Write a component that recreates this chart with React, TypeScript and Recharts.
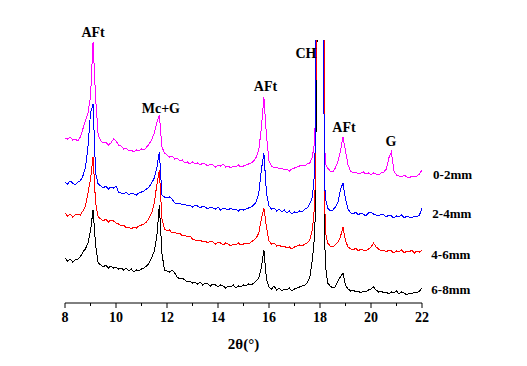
import React from 'react';
import { LineChart, Line, XAxis, YAxis, ReferenceDot } from 'recharts';

// 2θ scan positions (degrees)
const twoTheta = [
  8.0, 8.1, 8.2, 8.3, 8.4, 8.5, 8.6, 8.7, 8.8, 8.9,
  9.0, 9.1, 9.2, 9.3, 9.4, 9.5, 9.6, 9.7, 9.8, 9.9,
  10.0, 10.1, 10.2, 10.3, 10.4, 10.5, 10.6, 10.7, 10.8, 10.9,
  11.0, 11.1, 11.2, 11.3, 11.4, 11.5, 11.6, 11.7, 11.8, 11.9,
  12.0, 12.1, 12.2, 12.3, 12.4, 12.5, 12.6, 12.7, 12.8, 12.9,
  13.0, 13.1, 13.2, 13.3, 13.4, 13.5, 13.6, 13.7, 13.8, 13.9,
  14.0, 14.1, 14.2, 14.3, 14.4, 14.5, 14.6, 14.7, 14.8, 14.9,
  15.0, 15.1, 15.2, 15.3, 15.4, 15.5, 15.6, 15.7, 15.8, 15.9,
  16.0, 16.1, 16.2, 16.3, 16.4, 16.5, 16.6, 16.7, 16.8, 16.9,
  17.0, 17.1, 17.2, 17.3, 17.4, 17.5, 17.6, 17.7, 17.8, 17.9,
  18.0, 18.1, 18.2, 18.3, 18.4, 18.5, 18.6, 18.7, 18.8, 18.9,
  19.0, 19.1, 19.2, 19.3, 19.4, 19.5, 19.6, 19.7, 19.8, 19.9,
  20.0, 20.1, 20.2, 20.3, 20.4, 20.5, 20.6, 20.7, 20.8, 20.9,
  21.0, 21.1, 21.2, 21.3, 21.4, 21.5, 21.6, 21.7, 21.8, 21.9,
  22.0,
];

// intensities as plotted (stacked offsets included), 0-2mm
const depth0to2 = [
  165, 164, 166, 163, 164, 162, 166, 174, 182, 190,
  206, 261, 205, 168, 162, 160, 161, 158, 160, 164,
  162, 158, 157, 154, 155, 152, 153, 151, 153, 152,
  154, 153, 156, 159, 163, 170, 180, 188, 156, 150,
  148, 146, 147, 144, 145, 142, 143, 140, 141, 139,
  141, 139, 140, 138, 140, 139, 137, 139, 138, 136,
  138, 137, 139, 136, 137, 135, 137, 136, 138, 136,
  137, 138, 139, 140, 142, 146, 153, 175, 206, 168,
  142, 137, 135, 136, 134, 135, 133, 134, 132, 134,
  135, 136, 137, 138, 137, 139, 140, 146, 163, 420,
  600, 420, 140, 135, 132, 131, 135, 141, 152, 166,
  152, 138, 132, 130, 131, 129, 130, 131, 129, 130,
  128, 130, 129, 128, 130, 131, 134, 145, 151, 132,
  128, 127, 126, 128, 126, 125, 127, 126, 127, 129,
  133,
];

// 2-4mm
const depth2to4 = [
  121, 119, 122, 120, 118, 121, 122, 127, 135, 156,
  190, 199, 130, 119, 117, 115, 117, 114, 116, 115,
  117, 111, 110, 109, 111, 108, 110, 109, 108, 110,
  111, 112, 114, 116, 120, 125, 135, 151, 108, 106,
  105, 106, 104, 100, 99, 100, 98, 99, 97, 98,
  96, 98, 97, 95, 97, 96, 94, 96, 95, 94,
  96, 93, 95, 94, 93, 95, 93, 94, 92, 94,
  93, 94, 95, 96, 98, 101, 110, 133, 150, 110,
  97, 94, 95, 92, 94, 91, 93, 90, 92, 89,
  91, 90, 92, 91, 94, 95, 99, 106, 133, 500,
  650, 300, 106, 95, 92, 93, 96, 100, 113, 120,
  104, 94, 90, 89, 91, 88, 90, 89, 87, 90,
  91, 89, 88, 87, 89, 88, 86, 88, 87, 85,
  87, 86, 88, 85, 87, 86, 85, 87, 86, 88,
  95,
];

// 4-6mm
const depth4to6 = [
  90, 87, 89, 86, 88, 89, 88, 92, 97, 110,
  124, 146, 100, 86, 84, 82, 84, 81, 83, 82,
  80, 79, 77, 78, 75, 76, 74, 76, 75, 77,
  78, 79, 81, 85, 90, 100, 118, 133, 84, 74,
  72, 73, 70, 71, 69, 70, 67, 68, 66, 67,
  64, 63, 62, 63, 61, 62, 60, 62, 61, 59,
  61, 60, 58, 60, 59, 57, 59, 58, 60, 58,
  59, 60, 59, 61, 63, 65, 70, 84, 95, 76,
  62, 59, 60, 57, 58, 56, 57, 55, 56, 54,
  56, 57, 58, 57, 59, 60, 63, 73, 100, 380,
  700, 520, 73, 60, 57, 56, 58, 61, 66, 76,
  62, 56, 54, 53, 55, 52, 54, 53, 52, 54,
  56, 60, 56, 54, 52, 53, 51, 53, 52, 50,
  52, 51, 53, 50, 52, 51, 53, 50, 52, 51,
  53,
];

// 6-8mm
const depth6to8 = [
  45, 42, 44, 41, 43, 44, 46, 51, 54, 60,
  72, 93, 58, 40, 38, 36, 38, 35, 37, 35,
  36, 34, 35, 33, 35, 32, 34, 31, 33, 32,
  34, 35, 37, 40, 45, 52, 66, 98, 50, 33,
  32, 31, 33, 30, 26, 24, 25, 23, 21, 22,
  20, 21, 19, 21, 18, 20, 19, 17, 19, 18,
  16, 18, 17, 15, 17, 16, 18, 15, 17, 16,
  18, 17, 19, 18, 20, 22, 25, 35, 53, 24,
  16, 14, 17, 13, 15, 12, 14, 13, 15, 12,
  14, 15, 16, 17, 18, 20, 26, 43, 70, 300,
  700, 400, 40, 20, 17, 15, 16, 22, 26, 30,
  18, 14, 12, 13, 11, 12, 10, 12, 11, 13,
  14, 16, 13, 11, 12, 10, 11, 9, 11, 10,
  12, 9, 11, 10, 8, 10, 9, 11, 10, 12,
  15,
];

const xTicks = [8, 9, 10, 11, 12, 13, 14, 15, 16, 17, 18, 19, 20, 21, 22];

const seriesNames = ['0-2mm', '2-4mm', '4-6mm', '6-8mm'];
const seriesColors = ['#FF00FF', '#0000FF', '#FF0000', '#000000'];

const phaseLabels = ['AFt', 'Mc+G', 'AFt', 'CH', 'AFt', 'G'];

// anchor points for the text annotations, in chart units
const phaseAnchors = [
  { x: 9.1, y: 271 },
  { x: 11.76, y: 195 },
  { x: 15.86, y: 217 },
  { x: 17.45, y: 250 },
  { x: 18.94, y: 176 },
  { x: 20.78, y: 162 },
];
const nameAnchors = [
  { x: 23.2, y: 129 },
  { x: 23.17, y: 90 },
  { x: 23.13, y: 49 },
  { x: 23.13, y: 14 },
];

const chartData = twoTheta.map((t, i) => ({
  t,
  s0: depth0to2[i],
  s1: depth2to4[i],
  s2: depth4to6[i],
  s3: depth6to8[i],
}));

// bottom trace first so the coloured ones sit on top
const drawOrder = [3, 0, 2, 1];

const FONT = '"Times New Roman", "Liberation Serif", serif';
const TICK_SIZE = 5;
const TICK_MARGIN = 4;

const AxisTick = (props: any) => {
  const { x, y, payload } = props;
  const v = payload.value;
  const major = v % 2 === 0;
  const axisY = y - TICK_SIZE - TICK_MARGIN;
  return (
    <g>
      <line x1={x} x2={x} y1={axisY} y2={axisY + (major ? 5 : 3)} stroke="#000" strokeWidth={1} />
      {major && (
        <text
          x={x}
          y={y}
          dy="0.71em"
          textAnchor="middle"
          fill="#000"
          fontSize={14}
          fontWeight="bold"
          fontFamily={FONT}
        >
          {v}
        </text>
      )}
    </g>
  );
};

const textLabel = (value: string, size: number) => ({
  value,
  position: 'center' as const,
  fill: '#000',
  fontSize: size,
  fontWeight: 'bold',
  fontFamily: FONT,
});

export default function App() {
  return (
    <div style={{ position: 'absolute', left: 0, top: 0, width: 527, height: 366, background: '#fff' }}>
      <LineChart
        width={527}
        height={366}
        data={chartData}
        margin={{ top: 40, right: 105, left: 65, bottom: 13 }}
      >
        <XAxis
          dataKey="t"
          type="number"
          domain={[8, 22]}
          ticks={xTicks}
          interval={0}
          height={50}
          tickSize={TICK_SIZE}
          tickMargin={TICK_MARGIN}
          tickLine={false}
          tick={<AxisTick />}
          axisLine={{ stroke: '#000', strokeWidth: 1 }}
          label={{
            value: '2θ(°)',
            position: 'insideBottom',
            offset: 4,
            fill: '#000',
            fontSize: 15,
            fontWeight: 'bold',
            fontFamily: FONT,
          }}
        />
        <YAxis hide type="number" domain={[0, 263]} allowDataOverflow />
        {drawOrder.map((i) => (
          <Line
            key={'s' + i}
            dataKey={'s' + i}
            name={seriesNames[i]}
            type="linear"
            stroke={seriesColors[i]}
            strokeWidth={1}
            shapeRendering="crispEdges"
            dot={false}
            isAnimationActive={false}
          />
        ))}
        {phaseLabels.map((txt, i) => (
          <ReferenceDot
            key={'p' + i}
            x={phaseAnchors[i].x}
            y={phaseAnchors[i].y}
            r={0}
            fill="none"
            stroke="none"
            ifOverflow="visible"
            label={textLabel(txt, 14)}
          />
        ))}
        {seriesNames.map((txt, i) => (
          <ReferenceDot
            key={'n' + i}
            x={nameAnchors[i].x}
            y={nameAnchors[i].y}
            r={0}
            fill="none"
            stroke="none"
            ifOverflow="visible"
            label={textLabel(txt, 13)}
          />
        ))}
      </LineChart>
    </div>
  );
}
